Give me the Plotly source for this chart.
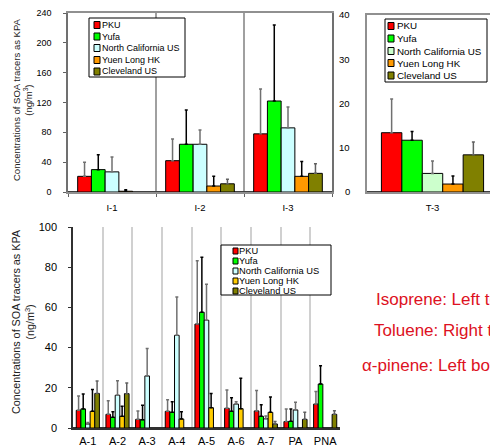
import plotly.graph_objects as go

# ---------------- data ----------------
series_names = ["PKU", "Yufa", "North California US", "Yuen Long HK", "Cleveland US"]

iso_cats = ["I-1", "I-2", "I-3"]
iso_vals = [
    [21, 42, 78],
    [30, 64, 122],
    [27, 64, 86],
    [1, 8, 21],
    [None, 11, 25],
]
iso_sd = [
    [19, 29, 60],
    [20, 46, 102],
    [20, 19, 28],
    [2, 13, 20],
    [0, 6, 13],
]

tol_cats = ["T-3"]
tol_vals = [[13.4], [11.7], [4.2], [1.8], [8.4]]
tol_sd = [[7.6], [2.0], [2.8], [1.8], [2.9]]
tol_ticks = [0, 10, 20, 30, 40]

pin_cats = ["A-1", "A-2", "A-3", "A-4", "A-5", "A-6", "A-7", "PA", "PNA"]
pin_vals = [
    [8.8, 6.8, 4.3, 8.3, 51.7, 9.8, 8.5, 3.2, 11.9],
    [9.5, 5.3, 4.1, 7.8, 57.6, 8.3, 5.8, 3.3, 21.9],
    [2.0, 16.3, 25.9, 46.1, 53.6, 11.9, 4.6, 9.0, None],
    [8.3, 5.8, None, 4.5, 10.1, 9.6, 7.8, None, None],
    [17.2, 17.1, None, None, None, None, 2.0, 4.3, 6.8],
]
pin_sd = [
    [7.1, 6.8, 4.2, 5.8, 31.5, 9.1, 10.1, 6.3, 6.2],
    [7.4, 2.8, 7.2, 5.3, 27.4, 6.8, 5.8, 6.2, 9.1],
    [0.7, 7.2, 13.6, 19.1, 17.9, 1.2, 1.4, 3.8, 0],
    [10.9, 5.0, 0, 3.6, 7.1, 15.1, 7.6, 0, 0],
    [6.2, 5.3, 0, 0, 0, 0, 1.2, 3.5, 1.8],
]

colors_iso = ["#FF0000", "#00FF00", "#CCFFFF", "#FF9900", "#808000"]
colors_tol = ["#FF0000", "#00FF00", "#CCFFCC", "#FF9900", "#808000"]
colors_pin = ["#FF0000", "#00FF00", "#CCFFFF", "#FFCC00", "#808000"]
err_colors = ["#707070", "#000000", "#707070", "#000000", "#606060"]

notes = ["Isoprene: Left top", "Toluene: Right top", "\u03b1-pinene: Left bottom"]

# the page body has an 8px margin, so the figure starts at (8, 8) in the window
OFF = 8
W, H = 498 - OFF, 448 - OFF
FONT = "Liberation Sans, Arial, sans-serif"


def px(x):
    return (x - OFF) / W


def py(y):
    return 1 - (y - OFF) / H


fig = go.Figure()


def add_series(cats, vals, sds, colors, xa, ya):
    for i, name in enumerate(series_names):
        fig.add_trace(go.Bar(
            x=cats, y=vals[i], name=name, showlegend=False,
            marker=dict(color=colors[i], line=dict(color="black", width=1)),
            error_y=dict(type="data", symmetric=False, array=sds[i],
                         arrayminus=[0] * len(cats),
                         color=err_colors[i], thickness=1.5, width=1.5),
            xaxis=xa, yaxis=ya,
        ))


add_series(iso_cats, iso_vals, iso_sd, colors_iso, "x", "y")
add_series(tol_cats, tol_vals, tol_sd, colors_tol, "x2", "y2")
add_series(pin_cats, pin_vals, pin_sd, colors_pin, "x3", "y3")


def add_legend(box, rows_y, sw_x, sw_w, sw_h, text_x, fsize, colors):
    fig.add_shape(type="rect", xref="paper", yref="paper",
                  x0=px(box[0]), x1=px(box[2]), y0=py(box[3]), y1=py(box[1]),
                  line=dict(color="black", width=1), fillcolor="white", layer="above")
    for name, col, yy in zip(series_names, colors, rows_y):
        fig.add_shape(type="rect", xref="paper", yref="paper",
                      x0=px(sw_x), x1=px(sw_x + sw_w),
                      y0=py(yy + sw_h / 2), y1=py(yy - sw_h / 2),
                      line=dict(color="black", width=1), fillcolor=col, layer="above")
        fig.add_annotation(xref="paper", yref="paper", x=px(text_x), y=py(yy),
                           xanchor="left", yanchor="middle", showarrow=False,
                           text=name, font=dict(family=FONT, size=fsize, color="black"),
                           borderpad=0)


add_legend((89, 18, 185, 77), [25, 36.5, 48, 60, 71.5], 94, 6, 7, 101, 9, colors_iso)
add_legend((385, 19, 487, 82), [26, 38.5, 51, 63, 75.5], 388, 6, 7, 396, 9.8, colors_tol)
add_legend((221, 245, 331, 295), [251, 261, 271, 281, 291], 233, 5, 6, 238, 9.3, colors_pin)

# y-axis titles
ytitle = "Concentrations of SOA tracers as KPA<br>(ng/m<sup>3</sup>)"
fig.add_annotation(xref="paper", yref="paper", x=px(22), y=py(100), textangle=-90,
                   showarrow=False, text=ytitle, xanchor="center", yanchor="middle",
                   font=dict(family=FONT, size=9.5, color="#222222"))
fig.add_annotation(xref="paper", yref="paper", x=px(23), y=py(322), textangle=-90,
                   showarrow=False, text=ytitle, xanchor="center", yanchor="middle",
                   font=dict(family=FONT, size=10.8, color="#222222"))

# tick labels of the toluene panel, placed on its own y scale
for t in tol_ticks:
    fig.add_annotation(xref="paper", yref="y2", x=px(351), y=t, xanchor="right",
                       yanchor="middle", showarrow=False, text=str(t), borderpad=0,
                       font=dict(family=FONT, size=9.5, color="black"))

for txt, yy in zip(notes, [299, 330, 365]):
    fig.add_annotation(xref="paper", yref="paper", x=px(442), y=py(yy),
                       xanchor="center", yanchor="middle", showarrow=False, text=txt,
                       font=dict(family=FONT, size=17, color="#DD1122"))

axfont_top = dict(family=FONT, size=9, color="black")
axfont_bot = dict(family=FONT, size=11, color="black")

fig.update_layout(
    width=W, height=H,
    margin=dict(l=0, r=0, t=0, b=0),
    paper_bgcolor="white", plot_bgcolor="white",
    template="none",
    barmode="group", bargap=0.22, bargroupgap=0,
    font=dict(family=FONT),
    xaxis=dict(domain=[px(68), px(332)], type="category", anchor="y", tickangle=0,
               tickson="boundaries", showgrid=True, gridcolor="#A0A0A0", gridwidth=1.5,
               showline=True, linecolor="#909090", linewidth=1.5, mirror=True,
               ticks="outside", ticklen=3, tickcolor="#606060",
               tickfont=dict(family=FONT, size=9.5, color="black"),
               ticklabelstandoff=6, zeroline=False, automargin=False),
    yaxis=dict(domain=[py(192), py(13)], range=[0, 240], dtick=40, anchor="x",
               showgrid=False, showline=True, linecolor="#707070", linewidth=1.5, mirror=True,
               ticks="outside", ticklen=3, tickcolor="#606060", tickfont=axfont_top,
               ticklabelstandoff=10, zeroline=True, zerolinecolor="#404040",
               zerolinewidth=1.5, automargin=False),
    xaxis2=dict(domain=[px(367), 1.0], type="category", anchor="y2", tickangle=0,
                showgrid=False, showline=True, linecolor="#909090", linewidth=1.5,
                mirror=True, ticks="outside", ticklen=3, tickcolor="rgba(0,0,0,0)",
                tickfont=dict(family=FONT, size=9.5, color="black"),
                ticklabelstandoff=3, zeroline=False, automargin=False),
    yaxis2=dict(domain=[py(192), py(15)], range=[0, 40], dtick=10, anchor="x2",
                showticklabels=False,
                showgrid=False, showline=True, linecolor="#909090", linewidth=1.5, mirror=True,
                ticks="", zeroline=True, zerolinecolor="#404040",
                zerolinewidth=1.5, automargin=False),
    xaxis3=dict(domain=[px(73), px(340)], type="category", anchor="y3", tickangle=0,
                tickson="boundaries", showgrid=True, gridcolor="#D0D0D0", gridwidth=1.5,
                showline=True, linecolor="#303030", linewidth=1.5, mirror=False,
                ticks="", tickfont=axfont_bot, ticklabelstandoff=2,
                zeroline=False, automargin=False),
    yaxis3=dict(domain=[py(428), py(227)], range=[0, 100], dtick=20, anchor="x3",
                showgrid=False, showline=True, linecolor="#303030", linewidth=1.5,
                ticks="outside", ticklen=3, tickcolor="#303030", tickfont=axfont_bot,
                ticklabelstandoff=9, zeroline=True, zerolinecolor="#303030",
                zerolinewidth=1.5, automargin=False),
)

fig.write_html("out.html")
